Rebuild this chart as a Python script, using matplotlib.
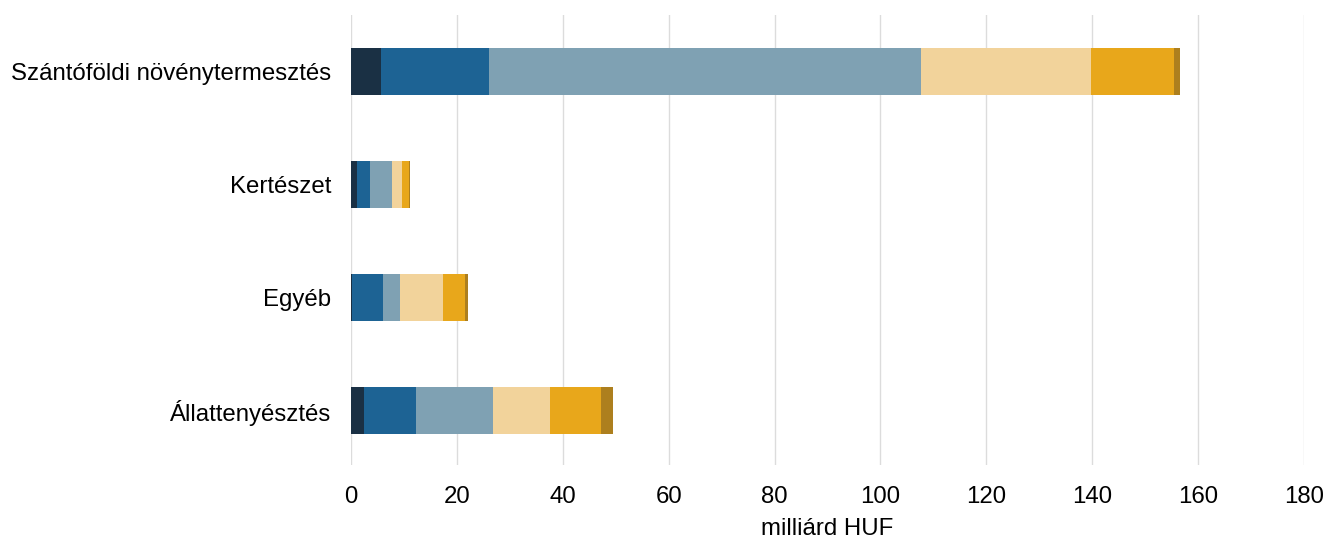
import numpy as np
import matplotlib.pyplot as plt

plt.rcParams["font.family"] = ["Liberation Sans", "DejaVu Sans"]

categories = ["Szántóföldi növénytermesztés", "Kertészet", "Egyéb", "Állattenyésztés"]
# segment values (milliárd HUF), bottom to top in stack order
seg1 = [5.7, 1.1, 0.2, 2.4]
seg2 = [20.4, 2.4, 5.8, 9.9]
seg3 = [81.6, 4.2, 3.2, 14.5]
seg4 = [32.0, 2.0, 8.1, 10.8]
seg5 = [15.8, 1.3, 4.2, 9.6]
seg6 = [1.1, 0.05, 0.6, 2.3]
segments = [seg1, seg2, seg3, seg4, seg5, seg6]
colors = ["#1a3044", "#1d6394", "#7fa1b3", "#f2d39b", "#e8a71b", "#ad7f1e"]

x_ticks = [0, 20, 40, 60, 80, 100, 120, 140, 160, 180]

fig = plt.figure(figsize=(13.25, 5.42), dpi=100)
ax = fig.add_axes([351 / 1325, 1 - 465 / 542, (1304 - 351) / 1325, (465 - 15) / 542])

y = np.arange(len(categories))[::-1]
left = np.zeros(len(categories))
for values, color in zip(segments, colors):
    ax.barh(y, values, left=left, height=0.42, color=color, zorder=3)
    left += np.array(values)

ax.set_xlim(0, 180)
ax.set_ylim(-0.48, 3.5)
ax.set_xticks(x_ticks)
ax.set_yticks(y)
ax.set_yticklabels(categories)
ax.tick_params(axis="both", length=0, labelsize=17.3)
ax.tick_params(axis="x", pad=15)
ax.tick_params(axis="y", pad=14)
ax.grid(axis="x", color="#dcdcdc", linewidth=1, zorder=0)
for spine in ax.spines.values():
    spine.set_visible(False)
ax.set_xlabel("milliárd HUF", fontsize=17.3, labelpad=7)

fig.savefig("out.png", dpi=100, facecolor="white")
